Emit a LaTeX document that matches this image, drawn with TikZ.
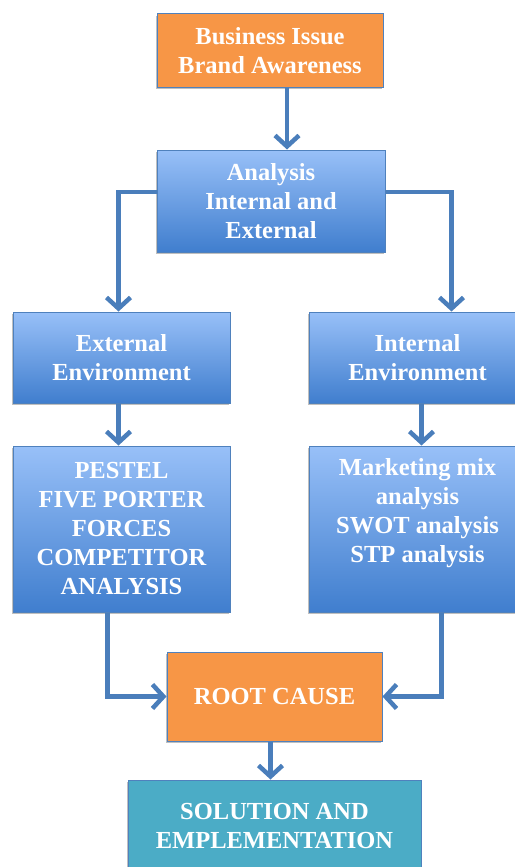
\documentclass[tikz,border=0pt]{standalone}
\usepackage{fontspec}
\setmainfont{Liberation Serif}
\usetikzlibrary{arrows.meta,shadows}
\definecolor{orng}{RGB}{247,150,70}
\definecolor{btop}{RGB}{152,192,248}
\definecolor{bbot}{RGB}{64,126,206}
\definecolor{teal}{RGB}{75,172,198}
\definecolor{edge}{RGB}{79,129,189}
\definecolor{arr}{RGB}{74,126,187}
\tikzset{
  box/.style={draw=edge, line width=1pt, align=center, text=white,
    font=\bfseries\fontsize{24.5}{29}\selectfont, inner sep=0pt,
    drop shadow={shadow xshift=-1pt, shadow yshift=-2pt, opacity=0.25, fill=black}},
  orangebox/.style={box, fill=orng},
  bluebox/.style={box, top color=btop, bottom color=bbot},
  tealbox/.style={box, fill=teal},
  conn/.style={draw=arr, line width=4.5pt, -{Straight Barb[length=11pt,width=24pt]}}
}
\begin{document}
\begin{tikzpicture}[x=1pt,y=-1pt]
\useasboundingbox[fill=white] (0,0) rectangle (514,867);
\node[orangebox, minimum width=226pt, minimum height=73pt] (top) at (270,50.5) {Business Issue\\Brand Awareness};
\node[bluebox, minimum width=228pt, minimum height=102pt] (ana) at (271,201) {Analysis\\Internal and\\External};
\node[bluebox, minimum width=217pt, minimum height=91pt] (ext) at (121.5,357.5) {External\\Environment};
\node[bluebox, minimum width=217pt, minimum height=91pt] (int) at (417.5,357.5) {Internal\\Environment};
\node[bluebox, minimum width=217pt, minimum height=166pt] (pest) at (121.5,529) {PESTEL\\FIVE PORTER\\FORCES\\COMPETITOR\\ANALYSIS};
\node[bluebox, minimum width=217pt, minimum height=166pt] (mkt) at (417.5,529) {Marketing mix\\analysis\\SWOT analysis\\STP analysis\\\strut};
\node[orangebox, minimum width=215pt, minimum height=89pt] (root) at (274.5,696.5) {ROOT CAUSE};
\node[tealbox, minimum width=293pt, minimum height=92pt] (sol) at (274.5,826) {SOLUTION AND\\EMPLEMENTATION};
\draw[conn] ([xshift=17pt]top.south) -- ([xshift=17pt]top.south |- ana.north);
\draw[conn] ([yshift=9pt]ana.west) -| ([xshift=-3pt]ext.north);
\draw[conn] ([yshift=9pt]ana.east) -| ([xshift=34pt]int.north);
\draw[conn] ([xshift=-3pt]ext.south) -- ([xshift=-3pt]ext.south |- pest.north);
\draw[conn] ([xshift=4pt]int.south) -- ([xshift=4pt]int.south |- mkt.north);
\draw[conn] ([xshift=-14pt]pest.south) |- (root.west);
\draw[conn] ([xshift=24pt]mkt.south) |- (root.east);
\draw[conn] ([xshift=-4pt]root.south) -- ([xshift=-4pt]root.south |- sol.north);
\end{tikzpicture}
\end{document}
